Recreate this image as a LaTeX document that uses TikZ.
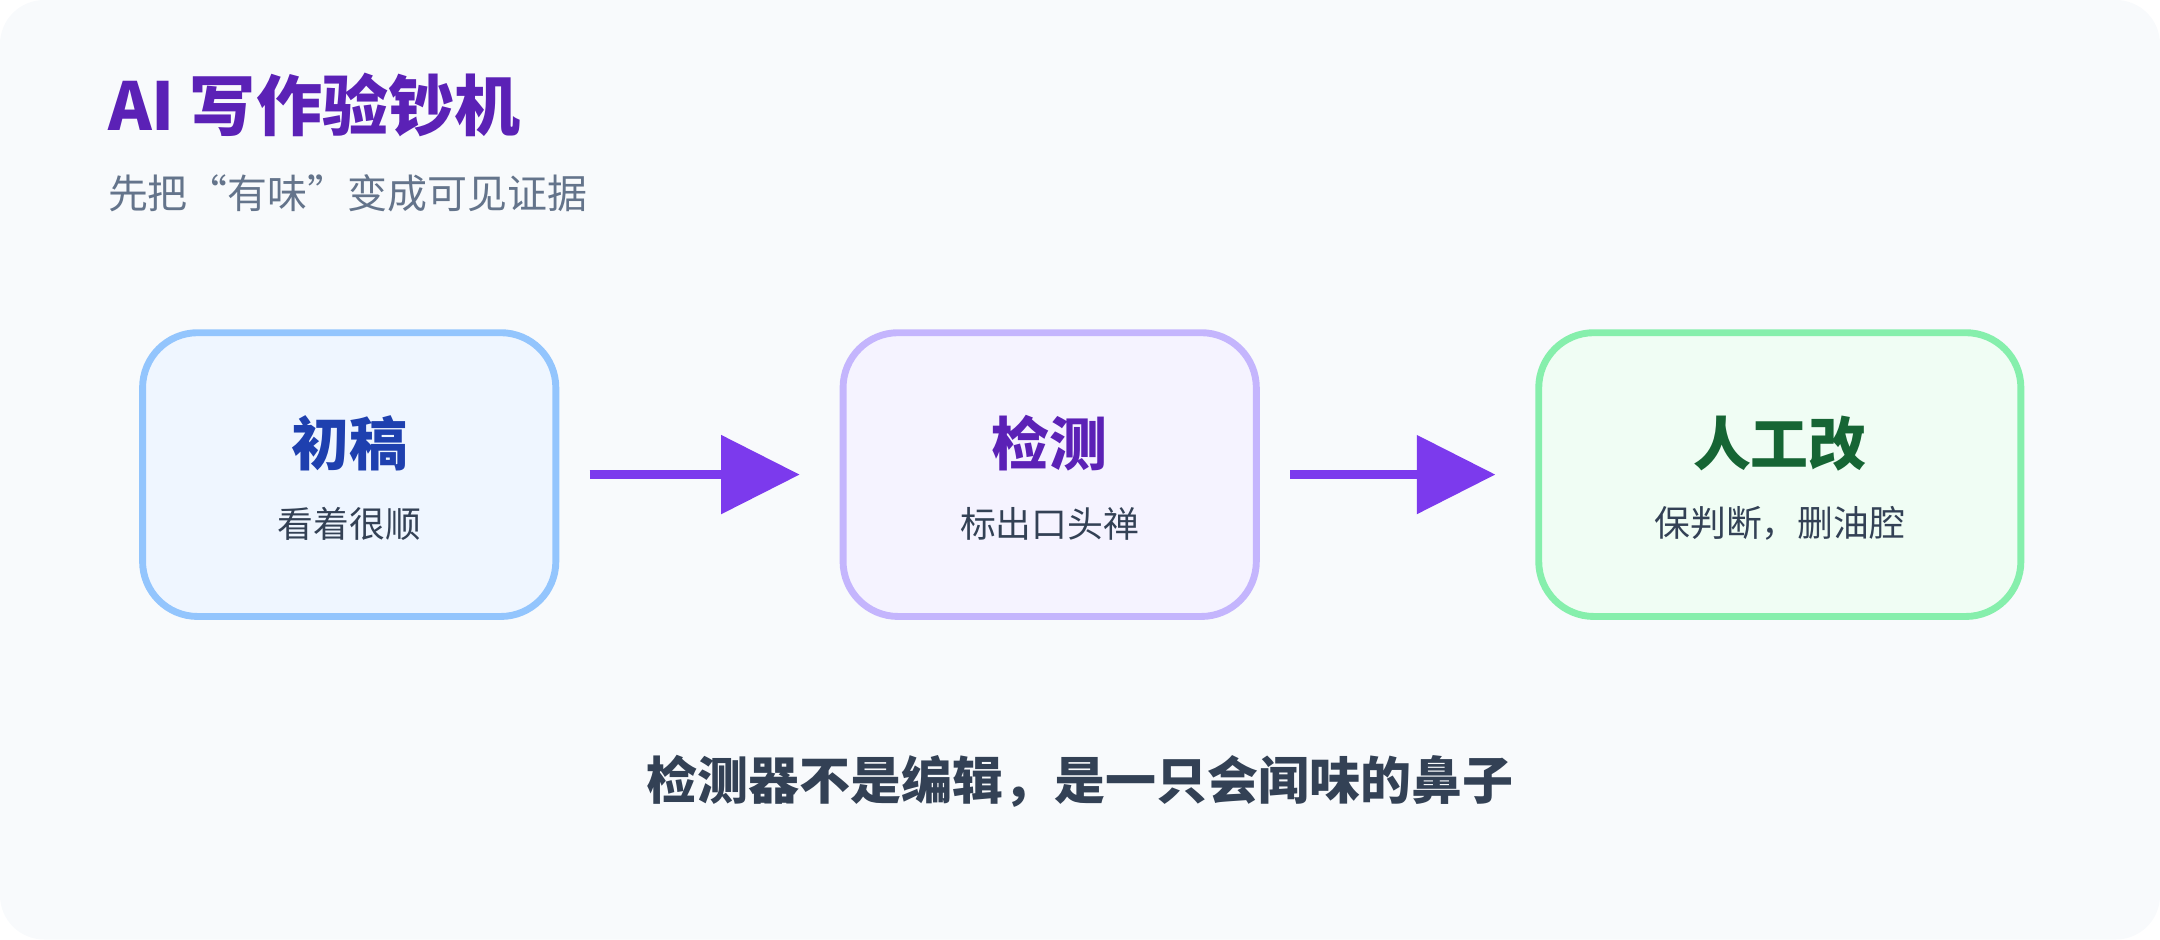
\documentclass[tikz,border=0pt]{standalone}
\usepackage{fontspec}
\setmainfont{Noto Sans CJK SC}
\usetikzlibrary{positioning}
\usetikzlibrary{arrows.meta}
\definecolor{bgpage}{HTML}{F8FAFC}
\definecolor{titlepurple}{HTML}{5B21B6}
\definecolor{subgray}{HTML}{64748B}
\definecolor{textdark}{HTML}{334155}
\definecolor{arrowpurple}{HTML}{7C3AED}
\tikzset{
  stage/.style={draw, line width=2.5pt, rounded corners=20pt, minimum width=150pt, minimum height=103pt, inner sep=0pt},
  stagetitle/.style={font=\fontsize{21}{24}\selectfont\bfseries, inner sep=0pt},
  stagesub/.style={font=\fontsize{13}{15}\selectfont, text=textdark, inner sep=0pt},
  flow/.style={draw=arrowpurple, line width=3pt, -{Triangle[length=28.5pt,width=28pt]}}
}
\begin{document}
\begin{tikzpicture}[x=0.5pt,y=-0.5pt]
%background
\fill[bgpage, rounded corners=16pt] (0,0) rectangle (1568,682);
\useasboundingbox (0,0) rectangle (1568,682);

% Title
\node[anchor=west, inner sep=0pt, text=titlepurple, font=\fontsize{24}{28}\selectfont\bfseries] (title) at (78,76) {AI 写作验钞机};
\node[anchor=west, inner sep=0pt, text=subgray, font=\fontsize{14.5}{17}\selectfont] (subtitle) at (78,140) {先把“有味”变成可见证据};

% Stages
\node[stage, draw=blue!40!cyan!40, fill={rgb,255:red,239;green,246;blue,255}, draw={rgb,255:red,147;green,197;blue,253}] (draft) at (253.5,344.5) {};
\node[stage, fill={rgb,255:red,245;green,243;blue,255}, draw={rgb,255:red,196;green,181;blue,253}] (detect) at (762,344.5) {};
\node[stage, minimum width=175pt, fill={rgb,255:red,240;green,253;blue,244}, draw={rgb,255:red,134;green,239;blue,172}] (edit) at (1292,344.5) {};

% Stage texts
\node[stagetitle, text={rgb,255:red,30;green,64;blue,175}] (drafttitle) at (253.5,322) {初稿};
\node[stagesub] (draftsub) at (253.5,380) {看着很顺};
\node[stagetitle, text=titlepurple] (detecttitle) at (762,322) {检测};
\node[stagesub] (detectsub) at (762,380) {标出口头禅};
\node[stagetitle, text={rgb,255:red,22;green,101;blue,52}] (edittitle) at (1292,322) {人工改};
\node[stagesub] (editsub) at (1292,380) {保判断，删油腔};

% Arrows
\draw[flow, shorten <=11pt, shorten >=14.5pt] (draft.east) -- (detect.west);
\draw[flow, shorten <=11pt, shorten >=14.5pt] (detect.east) -- (edit.west);

% Footer
\node[inner sep=0pt, text=textdark, font=\fontsize{18.5}{22}\selectfont\bfseries] (footer) at (784,567) {检测器不是编辑，是一只会闻味的鼻子};
\end{tikzpicture}
\end{document}
